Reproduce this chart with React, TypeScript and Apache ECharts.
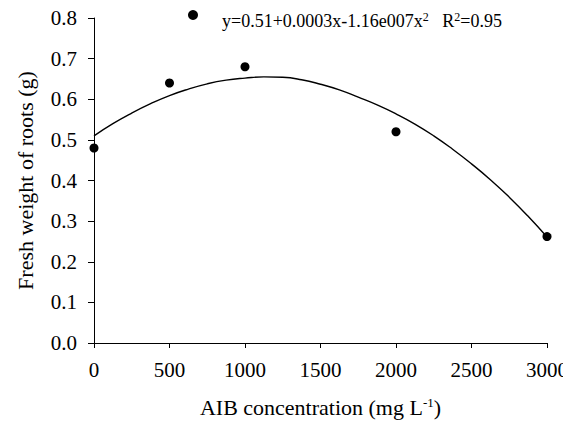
import React, { useEffect, useRef } from "react";
import * as echarts from "echarts";

const concentrations = [0, 500, 1000, 2000, 3000];
const freshWeight = [0.48, 0.64, 0.68, 0.52, 0.262];

// fitted regression curve, every 125 mg/L
const curveX = [
  0, 125, 250, 375, 500, 625, 750, 875, 1000, 1125, 1250, 1375, 1500,
  1625, 1750, 1875, 2000, 2125, 2250, 2375, 2500, 2625, 2750, 2875, 3000,
];
const curveY = [
  0.51, 0.54, 0.566, 0.589, 0.609, 0.625, 0.638, 0.647, 0.652, 0.655, 0.654, 0.648, 0.637,
  0.623, 0.605, 0.586, 0.564, 0.539, 0.51, 0.477, 0.441, 0.402, 0.359, 0.312, 0.261,
];

const yTicks = [0, 0.1, 0.2, 0.3, 0.4, 0.5, 0.6, 0.7, 0.8];
const xTicks = [0, 500, 1000, 1500, 2000, 2500, 3000];

const equationLabel = "y=0.51+0.0003x-1.16e007x2  R2=0.95";

const FONT = "Liberation Serif";

export default function App() {
  const ref = useRef<HTMLDivElement>(null);
  useEffect(() => {
    if (!ref.current) return;
    const chart = echarts.init(ref.current, undefined, { renderer: "svg" });
    chart.setOption({
      animation: false,
      backgroundColor: "#ffffff",
      grid: { left: 94, right: 22, top: 18, bottom: 85, containLabel: false },
      legend: {
        show: true,
        left: 183,
        top: 5,
        itemWidth: 10,
        itemHeight: 10,
        data: [{ name: equationLabel, icon: "circle" }],
        formatter: () =>
          "{a|y=0.51+0.0003x-1.16e007x}{s|2}{a|   R}{s|2}{a|=0.95}",
        textStyle: {
          fontFamily: FONT,
          color: "#000",
          padding: [12, 0, 0, 19],
          rich: {
            a: { fontFamily: FONT, fontSize: 18, color: "#000" },
            s: { fontFamily: FONT, fontSize: 12, color: "#000", padding: [0, 0, 9, 0] },
          },
        },
      },
      xAxis: {
        type: "value",
        min: xTicks[0],
        max: xTicks[xTicks.length - 1],
        interval: 500,
        name: "{a|AIB concentration (mg L}{s|-1}{a|)}",
        nameLocation: "middle",
        nameGap: 53,
        nameTextStyle: {
          rich: {
            a: { fontFamily: FONT, fontSize: 22, color: "#000" },
            s: { fontFamily: FONT, fontSize: 13, color: "#000", padding: [0, 0, 10, 0] },
          },
        },
        axisLine: { show: true, onZero: false, lineStyle: { color: "#000", width: 1 } },
        axisTick: { show: true, inside: false, length: 5, lineStyle: { color: "#000" } },
        axisLabel: {
          fontFamily: FONT,
          fontSize: 21,
          color: "#000",
          margin: 16,
          formatter: (v: number) => String(v),
        },
        splitLine: { show: false },
      },
      yAxis: {
        type: "value",
        min: yTicks[0],
        max: yTicks[yTicks.length - 1],
        interval: 0.1,
        name: "Fresh weight of roots (g)",
        nameLocation: "middle",
        nameGap: 58,
        nameTextStyle: { fontFamily: FONT, fontSize: 22, color: "#000" },
        axisLine: { show: true, onZero: false, lineStyle: { color: "#000", width: 1 } },
        axisTick: { show: true, inside: false, length: 6, lineStyle: { color: "#000" } },
        axisLabel: {
          fontFamily: FONT,
          fontSize: 21,
          color: "#000",
          margin: 17,
          formatter: (v: number) => v.toFixed(1),
        },
        splitLine: { show: false },
      },
      series: [
        {
          name: "curve",
          type: "line",
          data: curveX.map((x, i) => [x, curveY[i]]),
          smooth: true,
          showSymbol: false,
          lineStyle: { color: "#000", width: 1.4 },
          itemStyle: { color: "#000" },
          clip: false,
          z: 2,
        },
        {
          name: equationLabel,
          type: "scatter",
          data: concentrations.map((x, i) => [x, freshWeight[i]]),
          symbol: "circle",
          symbolSize: 9,
          itemStyle: { color: "#000", opacity: 1 },
          clip: false,
          z: 3,
        },
      ],
    });
    return () => chart.dispose();
  }, []);
  return <div ref={ref} style={{ width: 571, height: 428, margin: -8 }} />;
}
